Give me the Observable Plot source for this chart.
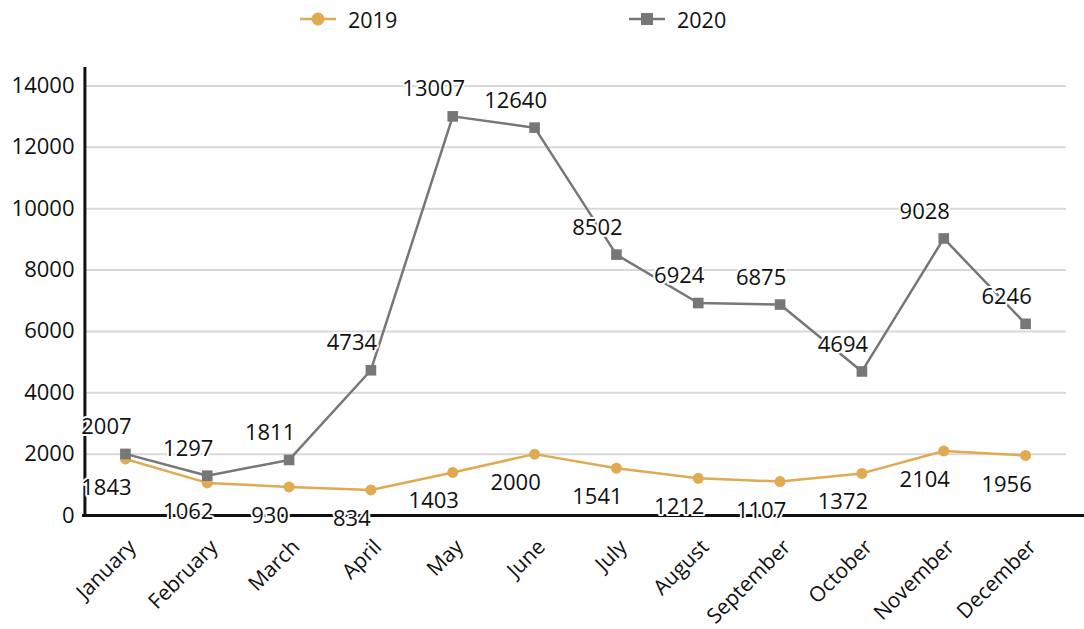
<!DOCTYPE html>
<html>
<head>
<meta charset="utf-8">
<script src="https://cdn.jsdelivr.net/npm/d3@7"></script>
<script src="https://cdn.jsdelivr.net/npm/@observablehq/plot@0.6"></script>
<style>
  html, body { margin: 0; padding: 0; background: #fff; }
  body { width: 1084px; height: 629px; position: relative; overflow: hidden; font-family: "Open Sans", "Noto Sans", sans-serif; }
  #legend { position: absolute; left: 0; top: 0; width: 1084px; height: 40px; }
  .item { position: absolute; top: 0; height: 38px; display: flex; align-items: center; font-size: 21.5px; color: #111; }
  .item svg { margin-right: 12px; }
  #chart { position: absolute; left: 0; top: 40px; }
</style>
</head>
<body>
<div id="legend"></div>
<div id="chart"></div>
<script>
const months = ["January","February","March","April","May","June","July","August","September","October","November","December"];
const series = ["2019", "2020"];
const values2019 = [1843, 1062, 930, 834, 1403, 2000, 1541, 1212, 1107, 1372, 2104, 1956];
const values2020 = [2007, 1297, 1811, 4734, 13007, 12640, 8502, 6924, 6875, 4694, 9028, 6246];
const yTicks = [0, 2000, 4000, 6000, 8000, 10000, 12000, 14000];
const colors = ["#e0aa52", "#777777"];

const rows2019 = months.map((m, i) => ({month: m, value: values2019[i], series: series[0]}));
const rows2020 = months.map((m, i) => ({month: m, value: values2020[i], series: series[1]}));

const font = "'Open Sans', 'Noto Sans', sans-serif";

const chart = Plot.plot({
  width: 1084,
  height: 589,
  marginLeft: 84,
  marginRight: 18,
  marginTop: 27,
  marginBottom: 114,
  style: {fontFamily: font, fontSize: "22px", color: "#111", background: "#fff"},
  x: {type: "point", domain: months, padding: 0.5, round: false, label: null},
  y: {domain: [0, 14600], label: null},
  marks: [
    Plot.ruleY(yTicks.slice(1), {stroke: "#d9d9d9", strokeWidth: 2}),
    Plot.axisY({ticks: yTicks, tickSize: 0, tickPadding: 10, fontSize: 22, tickFormat: d => String(d), label: null}),
    Plot.axisX({tickSize: 0, tickRotate: -45, fontSize: 21, tickPadding: 28, dx: 7, label: null}),
    Plot.line(rows2019, {x: "month", y: "value", stroke: colors[0], strokeWidth: 2.5}),
    Plot.line(rows2020, {x: "month", y: "value", stroke: colors[1], strokeWidth: 2.5}),
    Plot.dot(rows2019, {x: "month", y: "value", fill: colors[0], r: 5.5, symbol: "circle"}),
    Plot.dot(rows2020, {x: "month", y: "value", fill: colors[1], r: 6, symbol: "square"}),
    Plot.ruleX([0], {x: () => months[0], dx: -40.5, y1: 0, y2: 14600, stroke: "#111", strokeWidth: 3}),
    Plot.ruleY([0], {stroke: "#111", strokeWidth: 3, insetLeft: -2, insetRight: -18}),
    Plot.text(rows2019, {x: "month", y: "value", text: d => String(d.value), dx: -19, dy: 29, fontSize: 22, fill: "#111", stroke: "white", strokeWidth: 4}),
    Plot.text(rows2020, {x: "month", y: "value", text: d => String(d.value), dx: -19, dy: -27, fontSize: 22, fill: "#111", stroke: "white", strokeWidth: 4})
  ]
});
document.getElementById("chart").appendChild(chart);

// legend
const legend = document.getElementById("legend");
const legendLeft = [300, 629];
series.forEach((s, i) => {
  const item = document.createElement("div");
  item.className = "item";
  item.style.left = legendLeft[i] + "px";
  const sym = i === 0
    ? `<circle cx="18" cy="10" r="6.5" fill="${colors[i]}"/>`
    : `<rect x="12" y="4" width="12" height="12" fill="${colors[i]}"/>`;
  item.innerHTML = `<svg width="36" height="20"><line x1="0" x2="36" y1="10" y2="10" stroke="${colors[i]}" stroke-width="2.5"/>${sym}</svg><span>${s}</span>`;
  legend.appendChild(item);
});
</script>
</body>
</html>
